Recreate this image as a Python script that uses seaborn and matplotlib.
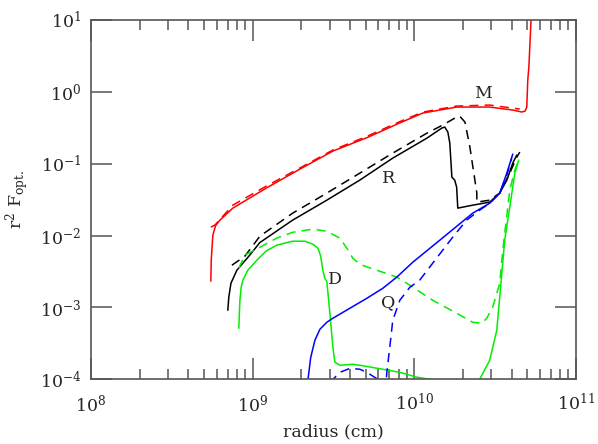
import matplotlib
matplotlib.use("Agg")
import matplotlib.pyplot as plt
from matplotlib.ticker import LogLocator, NullLocator
import seaborn as sns
import numpy as np

# M curves (red)
r_m = [5.52e8, 5.55e8, 5.68e8, 5.9e8, 6.28e8, 7.55e8, 1.22e9, 1.96e9, 3.14e9, 5.09e9, 8.15e9,
       1.13e10, 1.83e10, 2.93e10, 4.07e10, 4.63e10, 4.85e10, 4.97e10, 5.04e10, 5.12e10, 5.3e10]
f_m = [2.32e-3, 4.54e-3, 1.01e-2, 1.37e-2, 1.64e-2, 2.41e-2, 4.6e-2, 8.4e-2, 0.15, 0.23, 0.37,
       0.507, 0.614, 0.614, 0.558, 0.524, 0.54, 0.614, 1.46, 2.21, 12.0]
r_m_d = [5.52e8, 5.85e8, 7.55e8, 1.22e9, 1.96e9, 3.14e9, 5.09e9, 8.15e9, 1.13e10,
         1.83e10, 2.93e10, 3.63e10, 4.50e10]
f_m_d = [1.31e-2, 1.40e-2, 2.65e-2, 4.9e-2, 8.7e-2, 0.155, 0.24, 0.385, 0.523,
         0.634, 0.655, 0.614, 0.576]

# R curves (black)
r_r = [7.03e8, 7.13e8, 7.35e8, 8.0e8, 9.6e8, 1.11e9, 1.77e9, 2.88e9, 4.61e9, 7.37e9, 1.20e10,
       1.48e10, 1.545e10, 1.615e10, 1.66e10, 1.71e10, 1.78e10, 1.83e10, 1.86e10,
       2.30e10, 2.93e10, 3.38e10, 3.74e10, 4.07e10, 4.31e10]
f_r = [9.14e-4, 1.39e-3, 2.17e-3, 3.3e-3, 5.33e-3, 8.0e-3, 1.64e-2, 3.11e-2, 5.92e-2, 0.1197, 0.2273,
       0.313, 0.3236, 0.2754, 0.1936, 0.065, 0.0592, 0.0472, 0.0241,
       0.0265, 0.0292, 0.039, 0.0592, 0.102, 0.1318]
r_r_d = [7.45e8, 8.96e8, 1.11e9, 1.77e9, 2.88e9, 4.61e9, 7.37e9, 1.20e10, 1.50e10,
         1.83e10, 1.91e10, 2.06e10, 2.21e10, 2.44e10, 2.44e10, 2.93e10, 3.38e10,
         3.90e10, 4.31e10, 4.50e10]
f_r_d = [3.87e-3, 5.16e-3, 9.8e-3, 2.05e-2, 3.9e-2, 7.4e-2, 0.1405, 0.2666, 0.345,
         0.4457, 0.46, 0.3797, 0.17, 0.039, 0.0292, 0.0311, 0.039,
         0.074, 0.1236, 0.145]

# D curves (green)
r_d1 = [8.22e8, 8.35e8, 8.5e8, 8.71e8, 9.35e8, 1.063e9, 1.21e9, 1.41e9, 1.77e9, 2.10e9, 2.36e9,
        2.54e9, 2.64e9, 2.72e9, 2.80e9, 2.88e9, 3.01e9, 3.14e9, 3.23e9, 3.47e9, 4.17e9, 4.61e9,
        6.40e9, 8.15e9, 1.04e10, 1.25e10, 1.34e10]
f_d1 = [5.13e-4, 1.26e-3, 1.9e-3, 2.39e-3, 3.3e-3, 4.54e-3, 6.07e-3, 7.35e-3, 8.35e-3, 8.35e-3, 7.58e-3,
        6.66e-3, 5.16e-3, 3.3e-3, 2.55e-3, 2.3e-3, 8.3e-4, 2.79e-4, 1.73e-4, 1.57e-4, 1.62e-4, 1.57e-4,
        1.38e-4, 1.25e-4, 1.07e-4, 1.0e-4, 9.5e-5]
r_d2 = [2.47e10, 2.54e10, 2.93e10, 3.24e10, 3.38e10, 3.63e10, 3.90e10, 4.19e10, 4.43e10]
f_d2 = [9e-5, 1e-4, 1.84e-4, 4.81e-4, 1.39e-3, 8.63e-3, 2.49e-2, 0.074, 0.112]
r_d_d = [8.22e8, 8.96e8, 1.11e9, 1.41e9, 1.77e9, 2.36e9, 2.88e9, 3.47e9, 3.83e9, 4.17e9, 4.61e9,
         4.95e9, 6.12e9, 7.80e9, 9.0e9, 1.30e10, 1.83e10, 2.30e10, 2.62e10, 2.81e10, 3.06e10,
         3.38e10, 3.53e10, 3.90e10, 4.19e10, 4.43e10]
f_d_d = [3.52e-3, 5.33e-3, 6.89e-3, 9.2e-3, 1.11e-2, 1.23e-2, 1.15e-2, 9.2e-3, 6.68e-3, 4.84e-3, 4.0e-3,
         3.75e-3, 3.19e-3, 2.64e-3, 2.17e-3, 1.26e-3, 8.3e-4, 6.22e-4, 6.03e-4, 7.08e-4, 1.01e-3,
         2.17e-3, 6.27e-3, 4.28e-2, 8.15e-2, 0.112]

# Q curves (blue)
r_q = [2.19e9, 2.23e9, 2.29e9, 2.43e9, 2.61e9, 2.88e9, 3.14e9, 4.0e9, 5.09e9, 6.40e9, 7.80e9,
       9.8e9, 1.44e10, 2.30e10, 2.93e10, 3.38e10, 3.74e10, 4.07e10]
f_q = [9.0e-5, 1.25e-4, 2.02e-4, 3.49e-4, 4.97e-4, 6.22e-4, 7.08e-4, 9.75e-4, 1.34e-3, 1.85e-3, 2.64e-3,
       4.26e-3, 8.63e-3, 2.05e-2, 0.0282, 0.039, 0.074, 0.136]
r_q_d = [3.0e9, 3.47e9, 4.0e9, 4.61e9, 5.09e9, 5.96e9, 6.4e9, 6.67e9, 6.77e9, 7.06e9,
         7.37e9, 8.15e9, 9.4e9, 1.08e10, 1.73e10, 2.11e10, 2.54e10, 2.93e10, 3.38e10,
         3.74e10, 4.01e10]
f_q_d = [9e-5, 1.25e-4, 1.42e-4, 1.38e-4, 1.25e-4, 1.0e-4, 8e-5, 8e-5, 1.25e-4, 2.79e-4,
         6.64e-4, 1.26e-3, 1.91e-3, 2.39e-3, 9.5e-3, 1.64e-2, 2.26e-2, 0.0282, 0.039,
         0.0693, 0.1197]

labels = ["M", "R", "D", "Q"]
label_r = [2.65e10, 6.97e9, 3.23e9, 6.87e9]
label_f = [0.962, 0.063, 2.47e-3, 1.18e-3]

sns.set_style("ticks")
plt.rcParams['font.family'] = ['DejaVu Serif']
plt.rcParams['mathtext.fontset'] = 'dejavuserif'

fig = plt.figure(figsize=(5.98, 4.44), dpi=100)
ax = fig.add_axes([0.152, 0.1457, 0.811, 0.8093])

dash = (0, (6, 4))
green = "#00ee00"
curves = [
    (r_m, f_m, "red", "-"), (r_m_d, f_m_d, "red", dash),
    (r_r, f_r, "black", "-"), (r_r_d, f_r_d, "black", dash),
    (r_d1, f_d1, green, "-"), (r_d2, f_d2, green, "-"), (r_d_d, f_d_d, green, dash),
    (r_q, f_q, "blue", "-"), (r_q_d, f_q_d, "blue", dash),
]
for xs, ys, c, ls in curves:
    sns.lineplot(x=np.array(xs), y=np.array(ys), sort=False, estimator=None,
                 color=c, linestyle=ls, linewidth=1.1, ax=ax)

for t, x, y in zip(labels, label_r, label_f):
    ax.text(x, y, t, fontsize=12.5, ha="center", va="center")

ax.set_xscale("log")
ax.set_yscale("log")
ax.set_xlim(1e8, 1e11)
ax.set_ylim(1e-4, 1e1)
ax.xaxis.set_minor_locator(LogLocator(base=10, subs=np.arange(2, 10)))
ax.yaxis.set_minor_locator(NullLocator())

ax.tick_params(which="both", direction="in", top=True, right=True,
               color="#555555", labelsize=12.5, width=1.1)
ax.tick_params(which="major", length=15)
ax.tick_params(axis="x", which="major", pad=10)
ax.tick_params(axis="y", which="major", pad=7)
ax.tick_params(which="minor", length=7)
for s in ax.spines.values():
    s.set_color("#555555")
    s.set_linewidth(1.2)

ax.set_xlabel("radius (cm)", fontsize=12.5, labelpad=6)
ax.set_ylabel(r"r$^2$ F$_{\rm opt.}$", fontsize=12.5, labelpad=6)

fig.savefig("out.png", dpi=100)
